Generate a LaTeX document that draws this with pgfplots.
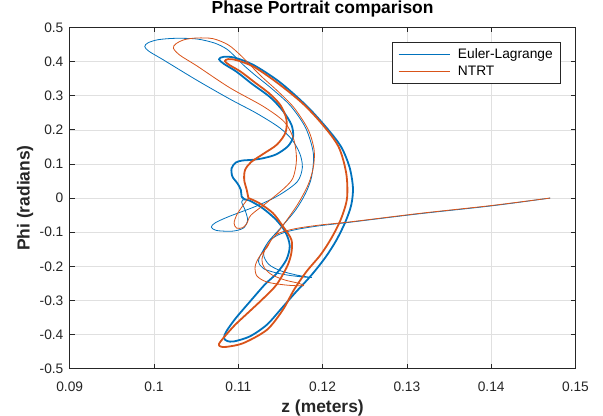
\documentclass[border=0pt]{standalone}
\usepackage{fontspec}
\setmainfont{Liberation Sans}
\usepackage{pgfplots}
\pgfplotsset{compat=1.18}

\definecolor{mblue}{rgb}{0,0.447,0.741}
\definecolor{morange}{rgb}{0.85,0.325,0.098}
\definecolor{axgray}{rgb}{0.15,0.15,0.15}
\definecolor{gridgray}{RGB}{224,224,224}

\begin{document}
\begin{tikzpicture}
\begin{axis}[
    name=ax,
    scale only axis,
    width=505.8bp, height=341.3bp,
    xmin=0.09, xmax=0.15,
    ymin=-0.5, ymax=0.5,
    xtick={0.09,0.10,0.11,0.12,0.13,0.14,0.15},
    xticklabels={0.09,0.1,0.11,0.12,0.13,0.14,0.15},
    ytick={-0.5,-0.4,-0.3,-0.2,-0.1,0,0.1,0.2,0.3,0.4,0.5},
    yticklabels={-0.5,-0.4,-0.3,-0.2,-0.1,0,0.1,0.2,0.3,0.4,0.5},
    grid=major,
    major grid style={line width=0.5pt, draw=gridgray},
    axis line style={draw=axgray, line width=0.6pt},
    tick style={draw=axgray, line width=0.6pt},
    major tick length=5bp,
    tick align=inside,
    xtick pos=both, ytick pos=both,
    tick label style={font=\fontsize{13.8}{16}\selectfont, text=axgray},
    xticklabel style={anchor=base, yshift=-22.3bp},
    yticklabel style={anchor=east, xshift=-2.8bp},
    title={\textbf{Phase Portrait comparison}},
    title style={font=\fontsize{17.5}{20}\selectfont, at={(rel axis cs:0.5,1)}, anchor=base, yshift=8bp},
    xlabel={\textbf{z (meters)}},
    xlabel style={font=\fontsize{17.5}{20}\selectfont, text=axgray, at={(rel axis cs:0.5,0)}, anchor=base, yshift=-43.3bp},
    ylabel={\textbf{Phi (radians)}},
    ylabel style={font=\fontsize{17.5}{20}\selectfont, text=axgray, at={(rel axis cs:0,0.5)}, anchor=base, yshift=40bp},
    legend style={at={(rel axis cs:0.9713,0.9563)}, anchor=north east,
        draw=axgray, line width=0.5pt, fill=white,
        font=\fontsize{13.8}{16}\selectfont,
        inner xsep=6bp, inner ysep=4bp, row sep=2bp,
        /tikz/every odd column/.append style={column sep=6bp}},
    legend cell align=left,
    legend image code/.code={\path (-4bp,0bp) -- (0bp,0bp);
        \draw[#1, line width=0.8bp] (0bp,0bp) -- (47bp,0bp);},
]
% Euler-Lagrange: transient
\addplot[mblue, line width=0.8bp, smooth, tension=0.5, line join=round] coordinates {
(0.1470,0.000) (0.1400,-0.023) (0.1315,-0.046) (0.1232,-0.071) (0.1197,-0.081)
(0.1169,-0.092) (0.1150,-0.105) (0.1137,-0.125) (0.1129,-0.155) (0.1124,-0.185)
(0.1130,-0.207) (0.1148,-0.221) (0.1168,-0.229) (0.1187,-0.233) (0.1170,-0.226)
(0.1150,-0.213) (0.1136,-0.194) (0.1130,-0.165) (0.1135,-0.130) (0.1150,-0.088)
(0.1168,-0.035) (0.1180,0.015) (0.1187,0.063) (0.1189,0.131) (0.1180,0.205)
(0.1162,0.270) (0.1140,0.320) (0.1120,0.360) (0.1106,0.390) (0.1096,0.415)
(0.1086,0.437) (0.1072,0.454) (0.1051,0.466) (0.1025,0.468) (0.1005,0.464)
(0.0993,0.455) (0.0989,0.444) (0.0994,0.430) (0.1011,0.405) (0.1051,0.345)
(0.1090,0.290) (0.1122,0.248) (0.1149,0.206) (0.1164,0.170) (0.1173,0.130)
(0.1176,0.090) (0.1170,0.048) (0.1148,0.008) (0.1121,-0.024) (0.1090,-0.053)
(0.1073,-0.072) (0.1068,-0.085) (0.1074,-0.095) (0.1093,-0.097) (0.1106,-0.088)
(0.1111,-0.065) (0.1108,-0.035) (0.1104,-0.012) (0.1106,-0.004)
};
\addlegendentry{Euler-Lagrange}
% Euler-Lagrange: settled cycle
\addplot[mblue, line width=1.8bp, smooth, tension=0.5, line join=round, forget plot] coordinates {
(0.1106,-0.004) (0.1113,-0.007) (0.1129,-0.030) (0.1145,-0.064) (0.1156,-0.100)
(0.1161,-0.140) (0.1157,-0.181) (0.1145,-0.222) (0.1132,-0.252) (0.1115,-0.300)
(0.1097,-0.352) (0.1086,-0.390) (0.1083,-0.410) (0.1087,-0.419) (0.1095,-0.420)
(0.1114,-0.405) (0.1134,-0.371) (0.1150,-0.327) (0.1167,-0.279) (0.1186,-0.228)
(0.1203,-0.175) (0.1216,-0.125) (0.1227,-0.070) (0.1234,-0.020) (0.1236,0.030)
(0.1232,0.090) (0.1222,0.150) (0.1205,0.205) (0.1181,0.270) (0.1149,0.340)
(0.1118,0.390) (0.1096,0.411) (0.1083,0.414) (0.1077,0.407)
(0.1083,0.393) (0.1098,0.370) (0.1116,0.335) (0.1138,0.295) (0.1153,0.255)
(0.1163,0.215) (0.1165,0.180) (0.1159,0.152) (0.1145,0.128) (0.1130,0.117)
(0.1117,0.112) (0.1105,0.110) (0.1097,0.104) (0.1092,0.087) (0.1093,0.063)
(0.1099,0.043) (0.1103,0.024) (0.1104,0.004) (0.1108,-0.004)
};
% NTRT: transient
\addplot[morange, line width=0.8bp, smooth, tension=0.5, line join=round] coordinates {
(0.1470,0.000) (0.1400,-0.022) (0.1315,-0.045) (0.1232,-0.070) (0.1197,-0.079)
(0.1169,-0.089) (0.1149,-0.102) (0.1140,-0.120) (0.1134,-0.145) (0.1125,-0.172)
(0.1120,-0.200) (0.1122,-0.228) (0.1134,-0.246) (0.1157,-0.255) (0.1177,-0.257)
(0.1172,-0.250) (0.1155,-0.240) (0.1140,-0.225) (0.1131,-0.205) (0.1128,-0.180)
(0.1134,-0.140) (0.1150,-0.090) (0.1170,-0.020) (0.1183,0.040) (0.1189,0.090)
(0.1190,0.140) (0.1183,0.200) (0.1166,0.265) (0.1146,0.315) (0.1128,0.355)
(0.1114,0.390) (0.1102,0.420) (0.1088,0.449) (0.1070,0.467) (0.1051,0.469)
(0.1036,0.464) (0.1026,0.452) (0.1023,0.439) (0.1031,0.418) (0.1051,0.387)
(0.1090,0.323) (0.1130,0.268) (0.1155,0.222) (0.1166,0.170) (0.1169,0.112)
(0.1165,0.060) (0.1155,0.030) (0.1133,-0.015) (0.1115,-0.050) (0.1110,-0.075)
(0.1105,-0.087) (0.1098,-0.088) (0.1095,-0.074) (0.1098,-0.050) (0.1106,-0.020)
(0.1112,0.000)
};
\addlegendentry{NTRT}
% NTRT: settled cycle
\addplot[morange, line width=1.8bp, smooth, tension=0.5, line join=round, forget plot] coordinates {
(0.1112,0.000) (0.1125,-0.015) (0.1141,-0.044) (0.1153,-0.083) (0.1163,-0.122)
(0.1163,-0.160) (0.1158,-0.200) (0.1145,-0.255) (0.1128,-0.298) (0.1112,-0.335)
(0.1096,-0.372) (0.1083,-0.408) (0.1077,-0.428) (0.1079,-0.435) (0.1086,-0.436)
(0.1106,-0.425) (0.1134,-0.386) (0.1153,-0.327) (0.1166,-0.269) (0.1181,-0.215)
(0.1198,-0.165) (0.1211,-0.115) (0.1222,-0.060) (0.1229,0.000) (0.1228,0.073)
(0.1219,0.150) (0.1200,0.215) (0.1176,0.278) (0.1145,0.340) (0.1118,0.385)
(0.1098,0.404) (0.1088,0.407) (0.1084,0.401) (0.1090,0.389)
(0.1103,0.370) (0.1120,0.338) (0.1137,0.306) (0.1150,0.272) (0.1157,0.232)
(0.1156,0.192) (0.1146,0.157) (0.1130,0.130) (0.1115,0.105) (0.1108,0.082)
(0.1107,0.053) (0.1110,0.024) (0.1112,0.000)
};
\end{axis}
\pgfresetboundingbox
\path[use as bounding box] ([xshift=-69.7bp,yshift=-47.3bp]ax.south west) rectangle ([xshift=27.5bp,yshift=27.4bp]ax.north east);
\end{tikzpicture}
\end{document}
